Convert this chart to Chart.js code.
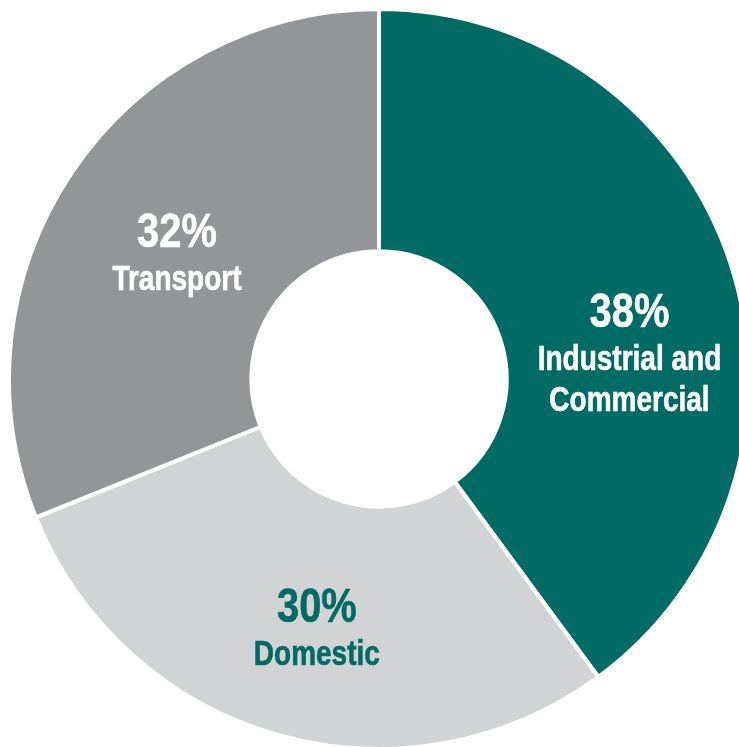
<!DOCTYPE html>
<html lang="en">
  <head>
    <meta charset="UTF-8" />
    <title>Energy Use by Sector</title>
    <script src="https://cdn.jsdelivr.net/npm/chart.js"></script>
    <style>
      html,
      body {
        margin: 0;
        padding: 0;
        background: #ffffff;
        overflow: hidden;
        width: 739px;
        height: 747px;
      }
      #sectorChart {
        position: absolute;
        left: 7px;
        top: 7px;
      }
    </style>
  </head>
  <body>
    <canvas id="sectorChart" width="744" height="744"></canvas>

    <script>
      // Sectors, clockwise from 12 o'clock
      const sectors = ['Industrial and Commercial', 'Domestic', 'Transport'];
      const shares = [39.9, 29.0, 31.1];
      // percentages printed on the chart
      const shareLabels = ['38%', '30%', '32%'];
      const nameLines = [['Industrial and', 'Commercial'], ['Domestic'], ['Transport']];

      const sliceColors = ['#006a65', '#d1d3d4', '#939598'];
      const textColors = ['#ffffff', '#006a65', '#ffffff'];

      // Writes the percentage + sector name inside each slice
      const sliceText = {
        id: 'sliceText',
        afterDatasetsDraw(chart, args, opts) {
          const ctx = chart.ctx;
          const arcs = chart.getDatasetMeta(0).data;
          arcs.forEach((arc, i) => {
            const r = arc.outerRadius;
            const x = arc.x + opts.anchors[i][0] * r;
            const y = arc.y + opts.anchors[i][1] * r;
            ctx.save();
            ctx.fillStyle = textColors[i];
            ctx.strokeStyle = textColors[i];
            ctx.lineWidth = 0.6;
            ctx.textAlign = 'center';
            ctx.textBaseline = 'alphabetic';
            ctx.translate(x, y);
            ctx.save();
            ctx.scale(0.83, 1);
            ctx.font = 'bold 48px "Liberation Sans", Arial, sans-serif';
            ctx.fillText(shareLabels[i], 0, 0);
            ctx.strokeText(shareLabels[i], 0, 0);
            ctx.restore();
            ctx.scale(0.8, 1);
            ctx.font = 'bold 35px "Liberation Sans", Arial, sans-serif';
            nameLines[i].forEach((line, j) => {
              ctx.fillText(line, 0, 43 + j * 41);
              ctx.strokeText(line, 0, 43 + j * 41);
            });
            ctx.restore();
          });
        },
      };

      new Chart(document.getElementById('sectorChart'), {
        type: 'doughnut',
        data: {
          labels: sectors,
          datasets: [
            {
              data: shares,
              backgroundColor: sliceColors,
              borderColor: '#ffffff',
              borderWidth: 4,
              hoverOffset: 0,
            },
          ],
        },
        options: {
          responsive: false,
          animation: false,
          cutout: '34.5%',
          layout: { padding: 0 },
          plugins: {
            legend: { display: false },
            tooltip: { enabled: false },
            sliceText: {
              anchors: [
                [0.677, -0.141],
                [-0.168, 0.658],
                [-0.546, -0.356],
              ],
            },
          },
        },
        plugins: [sliceText],
      });
    </script>
  </body>
</html>
